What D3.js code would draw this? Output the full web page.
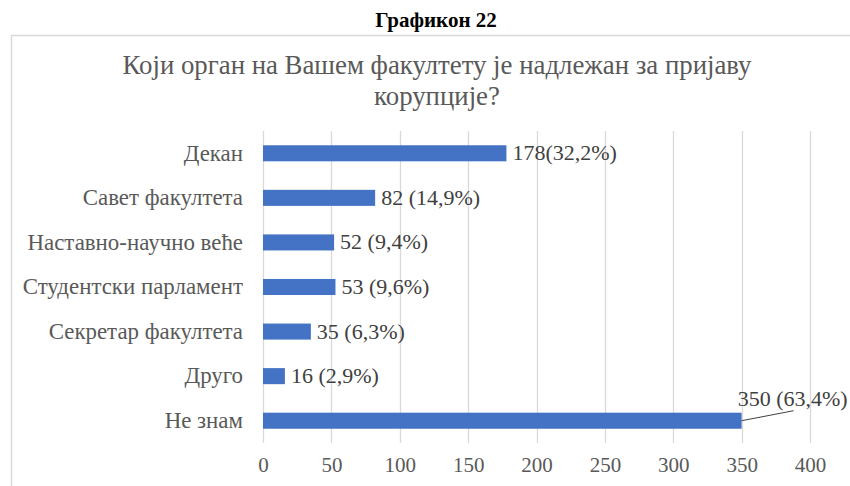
<!DOCTYPE html>
<html>
<head>
<meta charset="utf-8">
<script src="https://cdn.jsdelivr.net/npm/d3@7"></script>
<style>
  body { margin: 0; background: #fff; }
</style>
</head>
<body>
<div id="chart"></div>
<script>
// data
var categories = ["Декан", "Савет факултета", "Наставно-научно веће", "Студентски парламент",
                  "Секретар факултета", "Друго", "Не знам"];
var values = [178, 82, 52, 53, 35, 16, 350];
var valueLabels = ["178(32,2%)", "82 (14,9%)", "52 (9,4%)", "53 (9,6%)",
                   "35 (6,3%)", "16 (2,9%)", "350 (63,4%)"];
var tickValues = [0, 50, 100, 150, 200, 250, 300, 350, 400];

var FONT = "'Liberation Serif', 'Times New Roman', serif";
var W = 850, H = 486;
var margin = {top: 131, right: 40, bottom: 43, left: 263},
    width = 810 - margin.left,
    height = 443 - margin.top;

var svg = d3.select("#chart").append("svg")
    .attr("width", W).attr("height", H)
    .style("font-family", FONT);

// caption above the chart
svg.append("text")
    .attr("x", 436).attr("y", 27)
    .attr("text-anchor", "middle")
    .style("font-family", FONT)
    .style("font-size", "21px").style("font-weight", "bold")
    .attr("fill", "#000")
    .text("Графикон 22");

// chart border
svg.append("rect")
    .attr("x", 11.5).attr("y", 35.5)
    .attr("width", 850).attr("height", 470)
    .attr("fill", "none").attr("stroke", "#d9d9d9").attr("stroke-width", 1.5);

// chart title
var title = svg.append("text")
    .attr("text-anchor", "middle")
    .style("font-family", FONT)
    .style("font-size", "26.8px")
    .attr("fill", "#595959");
title.append("tspan").attr("x", 437).attr("y", 74).text("Који орган на Вашем факултету је надлежан за пријаву");
title.append("tspan").attr("x", 437).attr("y", 105).text("корупције?");

var g = svg.append("g")
    .attr("transform", "translate(" + margin.left + "," + margin.top + ")");

var x = d3.scaleLinear().domain([0, 400]).range([0, width]);
var y = d3.scaleBand().domain(categories).range([0, height]).paddingInner(0.64).paddingOuter(0.32);

// gridlines
g.selectAll(".grid")
    .data(tickValues)
    .enter().append("line")
    .attr("x1", function(d) { return Math.round(x(d)) + 0.5; })
    .attr("x2", function(d) { return Math.round(x(d)) + 0.5; })
    .attr("y1", 0).attr("y2", height)
    .attr("stroke", "#d9d9d9").attr("stroke-width", 1.3);

// x axis
var xAxis = g.append("g")
    .attr("transform", "translate(0," + height + ")")
    .call(d3.axisBottom(x).tickValues(tickValues).tickSize(0).tickPadding(14));
xAxis.attr("font-family", null);
xAxis.select(".domain").remove();
xAxis.selectAll("text")
    .style("font-size", "21px")
    .style("font-family", FONT)
    .attr("fill", "#595959");

// y axis
var yAxis = g.append("g")
    .call(d3.axisLeft(y).tickSize(0).tickPadding(20));
yAxis.attr("font-family", null);
yAxis.select(".domain").remove();
yAxis.selectAll("text")
    .style("font-size", "22.9px")
    .style("font-family", FONT)
    .attr("fill", "#595959");

// bars
g.selectAll(".bar")
    .data(values)
    .enter().append("rect")
    .attr("x", x(0))
    .attr("y", function(d, i) { return y(categories[i]); })
    .attr("width", function(d) { return x(d) - x(0); })
    .attr("height", y.bandwidth())
    .attr("fill", "#4472c4");

// value labels
g.selectAll(".lbl")
    .data(values)
    .enter().append("text")
    .attr("x", function(d, i) { return i === 6 ? x(d) - 4 : x(d) + 6; })
    .attr("y", function(d, i) { return y(categories[i]) + y.bandwidth() / 2 + (i === 6 ? -15 : 7); })
    .style("font-family", FONT)
    .style("font-size", "22px")
    .attr("fill", "#404040")
    .text(function(d, i) { return valueLabels[i]; });

// leader line for the last label
var last = values.length - 1;
g.append("line")
    .attr("x1", x(values[last]))
    .attr("y1", y(categories[last]) + y.bandwidth() / 2)
    .attr("x2", x(values[last]) + 52)
    .attr("y2", y(categories[last]) + y.bandwidth() / 2 - 10)
    .attr("stroke", "#404040").attr("stroke-width", 1);
</script>
</body>
</html>
